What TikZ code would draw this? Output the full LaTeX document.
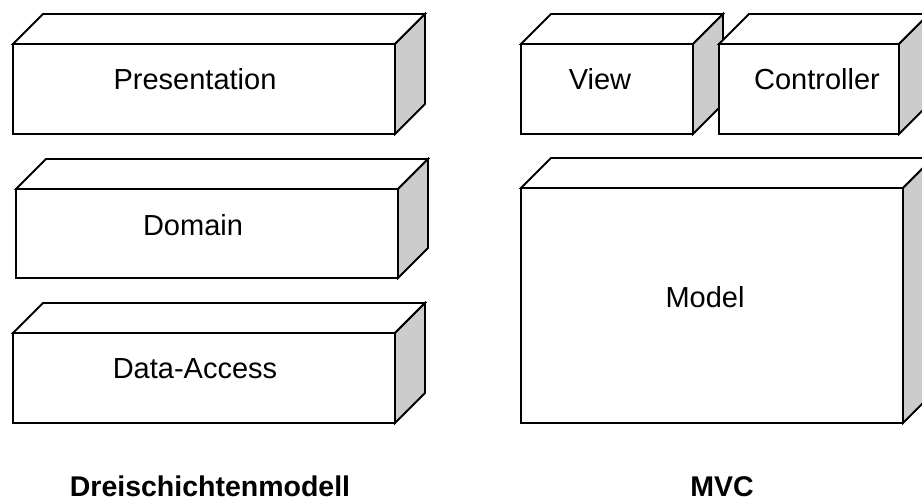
\documentclass[tikz,border=0pt]{standalone}
\usepackage{fontspec}
\setmainfont{Liberation Sans}
\definecolor{sidegray}{HTML}{CCCCCC}
\tikzset{
  face/.style={draw=black, fill=white, line width=1.8pt, line join=miter, inner sep=0pt, outer sep=0pt},
  boxlabel/.style={anchor=base, inner sep=0pt, font=\fontsize{29}{31}\selectfont},
  caption/.style={anchor=base, inner sep=0pt, font=\fontsize{28.5}{31}\selectfont\bfseries},
}
% a block drawn as a prism: front face is a node, top and side faces follow its corners
% #1 name, #2 centre of front face, #3 width, #4 height (in pt)
\newcommand\prismblock[4]{%
  \node[face, minimum width=#3pt, minimum height=#4pt] (#1) at (#2) {};
  \draw[face] (#1.north west) -- ++(30,-30) -- ([shift={(30,-30)}]#1.north east)
    -- (#1.north east) -- cycle;
  \draw[face, fill=sidegray] (#1.north east) -- ++(30,-30) -- ([shift={(30,-30)}]#1.south east)
    -- (#1.south east) -- cycle;
}
\begin{document}
\begin{tikzpicture}[x=1pt, y=-1pt]
  \clip (0,0) rectangle (922,503);
  \fill[white] (0,0) rectangle (922,503);

  % three-layer architecture
  \prismblock{pres}{204,89}{382}{90}
  \node[boxlabel] (presl) at (195,90) {Presentation};
  \prismblock{dom}{207,233.5}{382}{89}
  \node[boxlabel] (doml) at (193,235) {Domain};
  \prismblock{data}{204,378}{382}{90}
  \node[boxlabel] (datal) at (195,378) {Data-Access};
  \node[caption] (cap1) at (210,496) {Dreischichtenmodell};

  % model-view-controller
  \prismblock{view}{607,89}{172}{90}
  \node[boxlabel] (viewl) at (600,90) {View};
  \prismblock{ctrl}{809,89}{180}{90}
  \node[boxlabel] (ctrll) at (817,90) {Controller};
  \prismblock{model}{712,305.5}{382}{235}
  \node[boxlabel] (modell) at (705,307) {Model};
  \node[caption] (cap2) at (722,496) {MVC};
\end{tikzpicture}
\end{document}
